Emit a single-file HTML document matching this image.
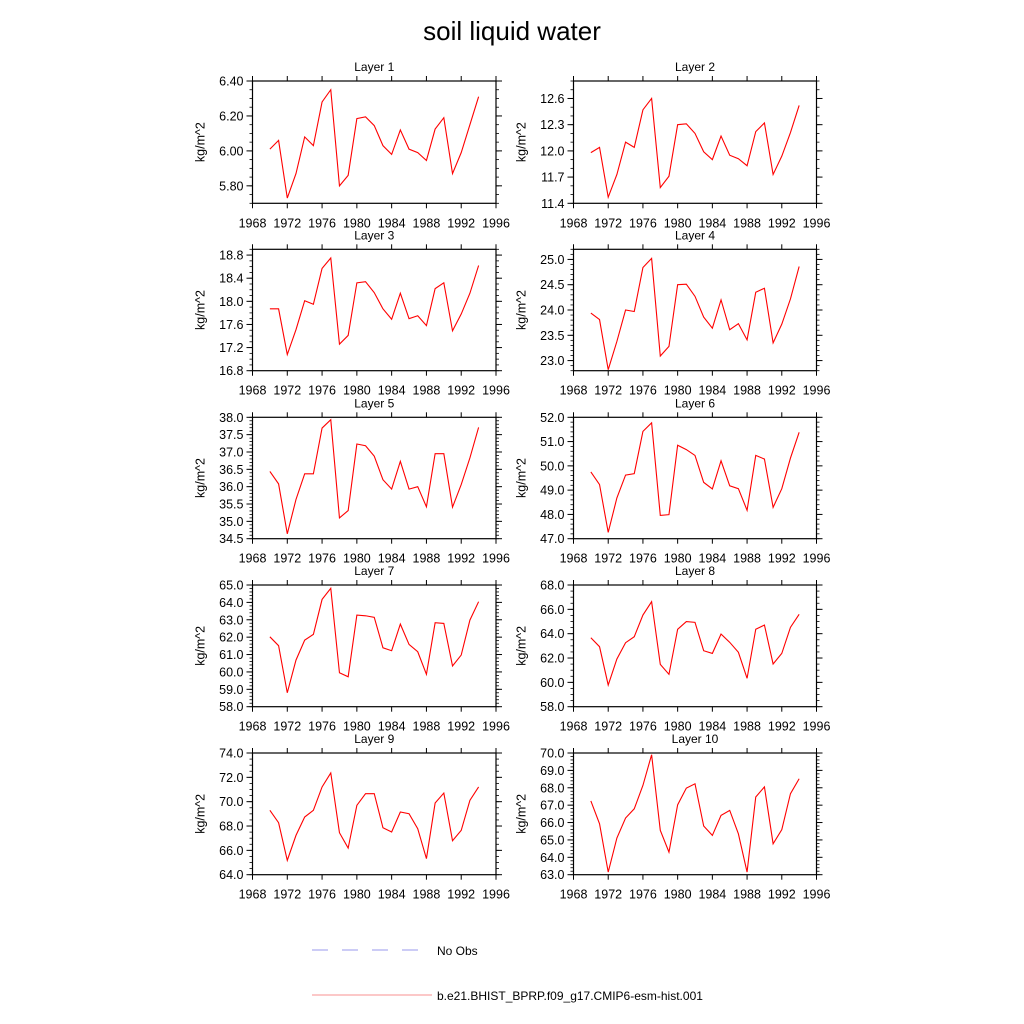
<!DOCTYPE html>
<html><head><meta charset="utf-8">
<style>
html,body{margin:0;padding:0;background:#fff;}
svg{display:block;font-family:"Liberation Sans",sans-serif;}
</style></head>
<body>
<svg id="chart" width="1024" height="1024" viewBox="0 0 1024 1024" xmlns="http://www.w3.org/2000/svg">
<rect width="1024" height="1024" fill="#fff"/>
<text x="512" y="40" font-size="26" text-anchor="middle" fill="#000">soil liquid water</text>
<g>
<line x1="312" y1="950" x2="432" y2="950" stroke="#9a9aee" stroke-width="1" stroke-dasharray="16,14"/>
<text x="437" y="955" font-size="12" fill="#000">No Obs</text>
<line x1="312" y1="995" x2="432" y2="995" stroke="#f89090" stroke-width="1"/>
<text x="437" y="1000" font-size="12" fill="#000">b.e21.BHIST_BPRP.f09_g17.CMIP6-esm-hist.001</text>
</g>
</svg>
<script>
const years = [];
for (let y = 1970; y <= 1994; y++) years.push(y);
const xTicks = [1968,1972,1976,1980,1984,1988,1992,1996];
const layer1 = [6.01,6.06,5.73,5.87,6.08,6.03,6.28,6.35,5.80,5.86,6.185,6.195,6.145,6.03,5.98,6.12,6.01,5.99,5.945,6.125,6.19,5.87,5.99,6.15,6.31];
const layer2 = [11.98,12.04,11.47,11.73,12.10,12.04,12.47,12.60,11.58,11.71,12.30,12.31,12.20,11.99,11.90,12.17,11.95,11.91,11.83,12.22,12.32,11.73,11.94,12.21,12.52];
const layer3 = [17.87,17.87,17.08,17.51,18.01,17.95,18.57,18.75,17.26,17.41,18.32,18.34,18.15,17.87,17.69,18.14,17.70,17.75,17.58,18.22,18.32,17.49,17.78,18.14,18.62];
const layer4 = [23.94,23.81,22.82,23.38,24.00,23.97,24.84,25.02,23.09,23.28,24.50,24.51,24.27,23.86,23.64,24.20,23.61,23.73,23.41,24.35,24.43,23.35,23.72,24.22,24.86];
const layer5 = [36.44,36.08,34.64,35.63,36.37,36.37,37.69,37.93,35.10,35.31,37.23,37.18,36.88,36.20,35.93,36.73,35.93,36.00,35.42,36.95,36.95,35.41,36.06,36.83,37.71];
const layer6 = [49.75,49.23,47.26,48.68,49.62,49.68,51.42,51.77,47.96,47.99,50.85,50.67,50.43,49.32,49.05,50.21,49.18,49.06,48.17,50.43,50.28,48.29,49.06,50.32,51.38];
const layer7 = [62.02,61.51,58.80,60.68,61.83,62.16,64.17,64.81,59.95,59.72,63.27,63.23,63.14,61.39,61.22,62.75,61.58,61.16,59.86,62.83,62.79,60.34,60.97,62.98,64.04];
const layer8 = [63.67,62.93,59.78,61.92,63.26,63.75,65.53,66.63,61.48,60.66,64.36,64.99,64.93,62.60,62.38,63.97,63.29,62.47,60.33,64.36,64.71,61.51,62.38,64.52,65.59];
const layer9 = [69.29,68.27,65.18,67.23,68.74,69.29,71.21,72.36,67.45,66.19,69.70,70.66,70.66,67.86,67.51,69.15,69.01,67.78,65.32,69.89,70.71,66.79,67.64,70.11,71.21];
const layer10 = [67.24,65.93,63.15,65.11,66.26,66.79,68.14,69.90,65.55,64.30,67.02,67.98,68.23,65.80,65.26,66.41,66.70,65.35,63.15,67.47,68.05,64.78,65.59,67.66,68.52];
const seriesList = [layer1,layer2,layer3,layer4,layer5,layer6,layer7,layer8,layer9,layer10];
const yMins = [5.70,11.4,16.8,22.8,34.5,47,58,58,64,63];
const yMaxs = [6.40,12.8,18.9,25.2,38.0,52,65,68,74,70];
const yTickStarts = [5.80,11.4,16.8,23.0,34.5,47,58,58,64,63];
const yTickSteps = [0.2,0.3,0.4,0.5,0.5,1,1,2,2,1];
const yMinorSteps = [0.05,0.1,0.1,0.1,0.1,0.2,0.2,0.5,0.5,0.2];
const yDecimals = [2,1,1,1,1,1,1,1,1,1];

const NS = "http://www.w3.org/2000/svg";
const svg = document.getElementById('chart');
function mk(tag, attrs, parent){
  const e = document.createElementNS(NS, tag);
  for (const k in attrs) e.setAttribute(k, attrs[k]);
  parent.appendChild(e); return e;
}
const colX = [[252.5,496],[573.5,816.5]];
const rowY = [[81,203.3],[249.3,370.7],[417.3,538.7],[585,706.7],[753,874.7]];

seriesList.forEach((vals, i) => {
  const c = i % 2, r = Math.floor(i / 2);
  const [x0,x1] = colX[c], [y0,y1] = rowY[r];
  const xs = v => x0 + (v - 1968) / (1996 - 1968) * (x1 - x0);
  const ys = v => y1 - (v - yMins[i]) / (yMaxs[i] - yMins[i]) * (y1 - y0);
  const g = mk('g', {}, svg);
  
  
  const t = mk('text', {x:(x0+x1)/2, y:y0-10, 'font-size':12, 'text-anchor':'middle'}, g);
  t.textContent = 'Layer ' + (i+1);
  
  
  const fr = mk('rect', {x:x0, y:y0, width:x1-x0, height:y1-y0, fill:'none', stroke:'#000', 'stroke-width':1.2}, g);
  
  
  // x ticks
  xTicks.forEach(v => {
    const x = xs(v);
    mk('line', {x1:x, y1:y1, x2:x, y2:y1+5, stroke:'#000'}, g);
    mk('line', {x1:x, y1:y0, x2:x, y2:y0-5, stroke:'#000'}, g);
    const lt = mk('text', {x:x, y:y1+24, 'font-size':12.5, 'text-anchor':'middle'}, g);
    lt.textContent = v;
    
    
  });
  // y minor ticks
  const eps = 1e-6;
  for (let v = yMins[i]; v <= yMaxs[i] + eps; v += yMinorSteps[i]) {
    const y = ys(v);
    mk('line', {x1:x0, y1:y, x2:x0-3, y2:y, stroke:'#000', 'stroke-width':0.8}, g);
    mk('line', {x1:x1, y1:y, x2:x1+3, y2:y, stroke:'#000', 'stroke-width':0.8}, g);
  }
  // y major ticks
  for (let v = yTickStarts[i]; v <= yMaxs[i] + eps; v += yTickSteps[i]) {
    const y = ys(v);
    mk('line', {x1:x0, y1:y, x2:x0-6, y2:y, stroke:'#000'}, g);
    mk('line', {x1:x1, y1:y, x2:x1+6, y2:y, stroke:'#000'}, g);
    const lt = mk('text', {x:x0-9, y:y+4.5, 'font-size':12.5, 'text-anchor':'end'}, g);
    lt.textContent = v.toFixed(yDecimals[i]);
    
    
  }
  const yt = mk('text', {x:0, y:0, 'font-size':12.5, 'text-anchor':'middle', transform:'translate(' + (x0-48) + ',' + ((y0+y1)/2) + ') rotate(-90)'}, g);
  yt.textContent = 'kg/m^2';
  
  
  const pts = vals.map((v, k) => xs(years[k]).toFixed(2) + ',' + ys(v).toFixed(2)).join(' ');
  const pl = mk('polyline', {points:pts, fill:'none', stroke:'#ff0000', 'stroke-width':1.1}, g);
  
  
});
</script>
</body></html>
